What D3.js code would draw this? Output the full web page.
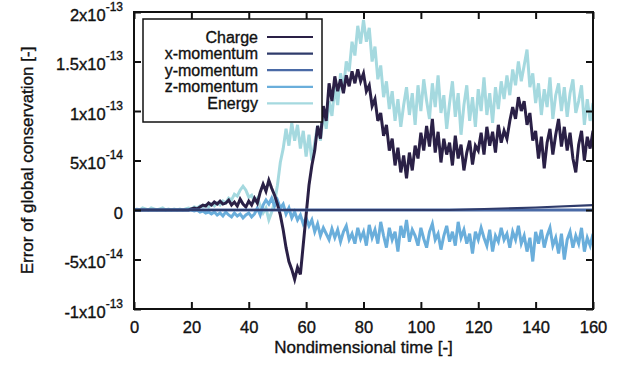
<!DOCTYPE html>
<html>
<head>
<meta charset="utf-8">
<script src="https://cdn.jsdelivr.net/npm/d3@7"></script>
<style>
  body { margin: 0; background: #fff; }
  svg { display: block; font-family: "Liberation Sans", Arial, Helvetica, sans-serif; }
  svg text { stroke: #111; stroke-width: 0.35px; }
  .axis path { display: none; }
  .axis line { stroke: #111; stroke-width: 2; }
</style>
</head>
<body>
<div id="chart"></div>
<script>
// values in units of 1e-14, one sample per unit of nondimensional time (0..160)
const charge = [
  0,0,0,0,0,0,0,0,0,0, 0,0,0,0,0,0,0,0,0,0,
  0.1,0.2,0.1,0.3,0.5,0.4,0.7,0.5,0.8,0.6,
  0.9,0.6,0.7,1.0,0.5,0.8,0.4,1.1,0.6,0.3,
  0.9,0.5,1.2,0.7,1.8,2.6,1.9,3.0,2.2,1.5,
  0.6,-0.5,-2.0,-3.8,-5.2,-6.0,-7.0,-5.8,-6.5,-3.5,
  -0.5,2.5,4.5,6.0,8.5,7.2,10.5,9.0,12.8,11.0,
  13.5,12.0,13.2,11.8,13.6,12.5,14.0,12.8,14.2,13.0,
  13.8,12.0,12.6,10.5,11.2,9.0,9.8,7.5,8.6,6.0,
  7.2,4.5,6.3,3.8,5.5,3.2,5.8,4.0,6.5,5.2,
  7.8,6.0,8.5,6.4,9.2,5.8,7.9,4.8,7.2,5.6,
  6.8,4.5,7.5,5.2,6.6,4.0,5.8,7.0,4.6,6.5,
  6.0,7.8,5.6,8.4,6.5,7.9,5.8,8.6,6.8,8.0,
  7.2,9.0,10.4,9.2,11.4,10.0,11.0,8.6,9.8,7.0,
  8.0,5.2,7.4,4.2,6.8,8.2,5.6,7.6,9.2,6.4,
  8.4,6.0,7.8,5.2,3.8,6.6,8.0,5.0,7.4,6.2,8.0
];
const energy = [
  0,0.1,0,0.2,0.1,0,0.2,0.1,0,0.1,
  0.2,0,0.1,0,0.1,0,0.1,0,0.1,0.2,
  0.1,0.3,0.2,0.4,0.3,0.5,0.3,0.6,0.4,0.7,
  0.5,0.9,0.7,1.2,1.0,1.6,1.4,2.0,2.4,2.0,
  1.3,1.5,0.9,1.2,0.4,-0.3,0.2,-1.0,-0.2,0.8,
  2.5,4.8,6.2,8.2,6.5,8.8,7.0,8.6,6.2,8.0,
  5.4,7.6,5.0,6.8,8.5,7.0,9.8,8.2,11.0,9.5,
  12.5,10.6,13.8,12.2,15.0,14.0,17.0,15.6,18.6,16.8,
  19.2,17.0,18.4,15.0,16.5,13.2,14.6,11.4,13.0,10.2,
  12.0,9.0,11.2,8.4,10.6,12.4,9.6,11.8,8.6,12.6,
  10.0,13.2,11.0,9.2,12.8,10.4,13.6,9.8,11.6,8.2,
  10.8,13.0,9.4,11.8,7.6,10.6,12.6,9.0,11.4,8.4,
  12.2,10.0,13.4,9.6,11.8,8.8,12.4,10.2,13.0,11.2,
  13.6,11.6,14.2,12.6,15.0,13.0,14.6,16.2,12.4,13.8,
  10.8,12.8,9.6,12.2,10.4,13.4,9.2,11.6,12.8,10.0,
  12.4,9.4,11.8,13.2,9.8,11.0,12.6,8.6,11.2,9.0,10.8
];
const zMomentum = [
  0,0,0,0,0,0,0,0,0,0, 0,0,0,0,0,0,0,0,0,0,
  0,-0.1,0,-0.2,-0.1,-0.3,-0.2,-0.4,-0.2,-0.5,
  -0.3,-0.6,-0.2,-0.5,-0.7,-0.3,-0.6,-0.4,-0.8,-0.5,
  -0.3,-0.7,-0.4,0.2,-0.5,0.5,1.0,0.6,1.2,0.4,
  1.0,0.2,0.6,-0.4,0.2,-0.8,-0.2,-1.0,-0.5,-1.4,
  -0.8,-1.6,-1.0,-2.2,-1.4,-2.6,-1.8,-2.4,-3.0,-1.9,
  -2.8,-2.0,-3.2,-2.2,-1.6,-3.0,-2.4,-3.4,-1.8,-2.9,
  -2.2,-3.6,-1.5,-2.8,-2.0,-3.4,-1.2,-2.6,-3.8,-1.8,
  -3.0,-2.2,-4.2,-1.6,-2.8,-1.0,-3.2,-2.0,-2.6,-3.6,
  -1.8,-2.9,-3.8,-2.2,-1.4,-3.0,-2.4,-4.0,-2.6,-1.6,
  -3.2,-2.2,-3.6,-1.2,-2.8,-2.0,-3.4,-2.4,-4.4,-2.2,
  -3.0,-1.8,-2.8,-3.6,-2.0,-4.2,-2.6,-3.2,-1.8,-3.0,
  -2.4,-3.8,-2.2,-3.0,-1.6,-3.4,-2.6,-4.2,-2.8,-5.2,
  -2.2,-3.4,-2.0,-3.8,-2.6,-1.8,-3.6,-2.8,-4.4,-2.4,
  -5.0,-3.0,-2.2,-3.8,-2.6,-3.4,-1.8,-4.2,-2.8,-3.6,-2.4
];
// nearly flat series, given at a few times only
const momTimes = [0, 110, 140, 160];
const xMomentum = [0, 0, 0.25, 0.5];
const yMomentum = [0, 0, 0, 0];

const legendNames = ['Charge', 'x-momentum', 'y-momentum', 'z-momentum', 'Energy'];
const colors = ['#2a2046', '#2f3b6b', '#4a6aa6', '#6aaedb', '#a5d9df'];

const xTicks = [0, 20, 40, 60, 80, 100, 120, 140, 160];
const yTicks = [-10, -5, 0, 5, 10, 15, 20];
const yTickMant = ['-1', '-5', '0', '5', '1', '1.5', '2'];
const yTickExp = ['-13', '-14', '', '-14', '-13', '-13', '-13'];

const W = 626, H = 371;
const margin = { top: 12, right: 33, bottom: 62, left: 134 };
const innerW = W - margin.left - margin.right;
const innerH = H - margin.top - margin.bottom;

const svg = d3.select('#chart').append('svg').attr('width', W).attr('height', H);
const g = svg.append('g').attr('transform', 'translate(' + margin.left + ',' + margin.top + ')');

const x = d3.scaleLinear().domain([0, 160]).range([0, innerW]);
const y = d3.scaleLinear().domain([-10, 20]).range([innerH, 0]);

const clip = svg.append('clipPath').attr('id', 'clip');
clip.append('rect').attr('width', innerW).attr('height', innerH);
const plot = g.append('g').attr('clip-path', 'url(#clip)');

const line = d3.line().x(d => x(d[0])).y(d => y(d[1]));
const sampled = arr => arr.map((v, i) => [i, v]);
const knots = arr => arr.map((v, i) => [momTimes[i], v]);

const series = [
  { data: sampled(energy), color: colors[4], w: 3 },
  { data: sampled(zMomentum), color: colors[3], w: 3 },
  { data: sampled(charge), color: colors[0], w: 3 },
  { data: knots(yMomentum), color: colors[2], w: 2.8 },
  { data: knots(xMomentum), color: colors[1], w: 2.2 }
];
plot.selectAll('path.series').data(series).enter().append('path')
  .attr('class', 'series')
  .attr('d', d => line(d.data))
  .attr('fill', 'none')
  .attr('stroke', d => d.color)
  .attr('stroke-width', d => d.w)
  .attr('stroke-linejoin', 'miter');

// axes with inward ticks on all four sides
const tk = 7;
const xAxis = g.append('g').attr('class', 'axis').attr('transform', 'translate(0,' + innerH + ')')
  .call(d3.axisBottom(x).tickValues(xTicks).tickSize(-tk).tickPadding(18).tickFormat(d3.format('d')));
xAxis.selectAll('text').attr('font-size', 16.5).attr('fill', '#111').attr('dy', '0.35em');
g.append('g').attr('class', 'axis').call(d3.axisTop(x).tickValues(xTicks).tickSize(-tk).tickFormat(''));
g.append('g').attr('class', 'axis').attr('transform', 'translate(' + innerW + ',0)')
  .call(d3.axisRight(y).tickValues(yTicks).tickSize(-tk).tickFormat(''));
const yAxis = g.append('g').attr('class', 'axis')
  .call(d3.axisLeft(y).tickValues(yTicks).tickSize(-tk).tickPadding(11).tickFormat(''));
yAxis.selectAll('.tick text').each(function (d, i) {
  const t = d3.select(this).attr('font-size', 16.5).attr('fill', '#111').attr('dy', '0.5em');
  t.append('tspan').text(yTickMant[i] + (yTickExp[i] ? 'x10' : ''));
  if (yTickExp[i]) t.append('tspan').attr('font-size', 12).attr('dy', '-0.85em').text(yTickExp[i]);
});

g.append('rect').attr('width', innerW).attr('height', innerH)
  .attr('fill', 'none').attr('stroke', '#111').attr('stroke-width', 2);

svg.append('text').attr('x', margin.left + innerW / 2).attr('y', 353)
  .attr('text-anchor', 'middle').attr('font-size', 17).attr('fill', '#111')
  .text('Nondimensional time [-]');
svg.append('text').attr('transform', 'translate(33,' + (margin.top + innerH / 2) + ') rotate(-90)')
  .attr('text-anchor', 'middle').attr('font-size', 17).attr('fill', '#111')
  .text('Error of global conservation [-]');

// legend
const legend = svg.append('g').attr('transform', 'translate(143,19)');
legend.append('rect').attr('width', 179).attr('height', 103)
  .attr('fill', '#fff').attr('stroke', '#111').attr('stroke-width', 1.5);
const rows = legend.selectAll('g.row').data(legendNames).enter().append('g')
  .attr('class', 'row').attr('transform', (d, i) => 'translate(0,' + (18 + i * 16.6) + ')');
rows.append('text').attr('x', 115).attr('dy', 5.5).attr('text-anchor', 'end')
  .attr('font-size', 16).attr('fill', '#111').text(d => d);
rows.append('line').attr('x1', 124).attr('x2', 170)
  .attr('stroke', (d, i) => colors[i]).attr('stroke-width', 2.2);
</script>
</body>
</html>
